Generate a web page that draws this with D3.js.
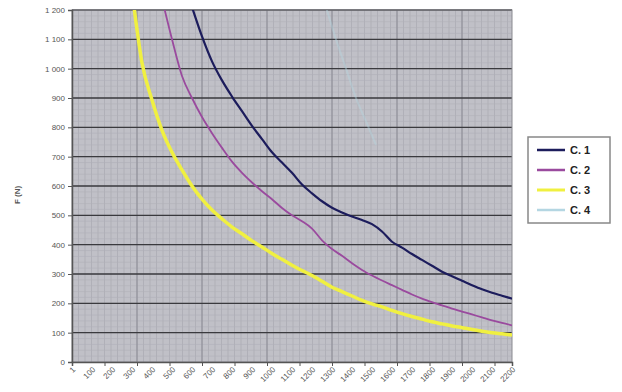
<!DOCTYPE html>
<html><head><meta charset="utf-8">
<script src="https://cdn.jsdelivr.net/npm/d3@7"></script>
<style>body{margin:0;background:#fff}svg{display:block}</style>
</head><body><svg id="c" width="622" height="392"></svg>
<script>
const seriesNames = ["C. 1", "C. 2", "C. 3", "C. 4"];
const seriesColors = ["#1c1c5c", "#9a4a9e", "#f0f040", "#b4d6e2"];
const xPos = [0,100,200,300,400,500,600,700,800,900,1000,1100,1200,1300,1400,1500,1600,1700,1800,1900,2000,2100,2200];
const xLabels = ["1","100","200","300","400","500","600","700","800","900","1000","1100","1200","1300","1400","1500","1600","1700","1800","1900","2000","2100","2200"];
const yTicks = [0,100,200,300,400,500,600,700,800,900,1000,1100,1200];
const yLabels = ["0","100","200","300","400","500","600","700","800","900","1 000","1 100","1 200"];
const c1x = [600,650,700,750,800,850,900,950,1000,1050,1100,1150,1200,1250,1300,1350,1400,1450,1500,1550,1600,1650,1700,1750,1800,1850,1900,1950,2000,2050,2100,2150,2200];
const c1y = [1210,1110,1025,960,905,855,805,760,715,680,645,605,575,548,526,510,496,484,470,445,410,390,368,348,328,308,292,277,262,248,236,226,216];
const c2x = [460,500,550,600,650,700,750,800,850,900,950,1000,1050,1100,1150,1200,1250,1300,1350,1400,1450,1500,1550,1600,1650,1700,1750,1800,1850,1900,1950,2000,2050,2100,2150,2200];
const c2y = [1210,1100,975,900,835,780,730,683,645,612,582,555,525,500,480,455,415,385,362,337,314,295,278,262,246,230,216,204,193,182,172,162,152,142,133,125];
const c3x = [310,350,400,450,500,550,600,650,700,750,800,850,900,950,1000,1050,1100,1150,1200,1250,1300,1350,1400,1450,1500,1550,1600,1650,1700,1750,1800,1850,1900,1950,2000,2050,2100,2150,2200];
const c3y = [1210,1020,893,790,715,655,600,555,518,488,460,437,413,392,370,350,330,312,295,275,255,240,225,210,198,188,176,165,155,146,137,130,123,117,111,105,100,96,92];
const c4x = [1270,1320,1370,1420,1470,1520];
const c4y = [1210,1100,1000,900,820,740];

const svg = d3.select("#c");
const x = d3.scaleLinear().domain([0,2200]).range([72,512]);
const y = d3.scaleLinear().domain([0,1200]).range([362,10]);

svg.append("rect").attr("x",72).attr("y",10).attr("width",440).attr("height",352).attr("fill","#c0c0c7");
const g = svg.append("g");
g.selectAll(".vm").data(d3.range(32.5,2200,32.5)).join("line")
  .attr("x1",d=>x(d)).attr("x2",d=>x(d)).attr("y1",10).attr("y2",362)
  .attr("stroke","#a9a9b2").attr("stroke-width",0.7);
g.selectAll(".hm").data(d3.range(20,1200,20)).join("line")
  .attr("x1",72).attr("x2",512).attr("y1",d=>y(d)).attr("y2",d=>y(d))
  .attr("stroke","#b0b0b8").attr("stroke-width",0.6);
g.selectAll(".vM").data(d3.range(325,2200,325)).join("line")
  .attr("x1",d=>x(d)).attr("x2",d=>x(d)).attr("y1",10).attr("y2",362)
  .attr("stroke","#8a8a94").attr("stroke-width",1);
g.selectAll(".hM").data(yTicks.slice(1)).join("line")
  .attr("x1",72).attr("x2",512).attr("y1",d=>y(d)).attr("y2",d=>y(d))
  .attr("stroke","#3a3a3e").attr("stroke-width",1.4);
svg.append("rect").attr("x",72).attr("y",10).attr("width",440).attr("height",352)
  .attr("fill","none").attr("stroke","#8a8a90").attr("stroke-width",1);

svg.append("clipPath").attr("id","clp").append("rect").attr("x",72).attr("y",10).attr("width",440).attr("height",352);
const line = d3.line().x(d=>x(d[0])).y(d=>y(d[1])).curve(d3.curveMonotoneX);
const series = [[c1x,c1y],[c2x,c2y],[c3x,c3y],[c4x,c4y]];
const widths = [2.2,1.8,3.5,2];
const order = [3,2,1,0];
const lg = svg.append("g").attr("clip-path","url(#clp)");
order.forEach(i=>{
  const pts = series[i][0].map((v,k)=>[v,series[i][1][k]]);
  lg.append("path").attr("d",line(pts)).attr("fill","none")
    .attr("stroke",seriesColors[i]).attr("stroke-width",widths[i])
    .attr("opacity", i===3?0.4:1);
});

const ya = d3.axisLeft(y).tickValues(yTicks).tickFormat((d,i)=>yLabels[i]).tickSize(4);
const yg = svg.append("g").attr("transform","translate(72,0)").call(ya);
yg.select(".domain").attr("stroke","#555").attr("stroke-width",1.5);
yg.selectAll("line").attr("stroke","#555");
yg.selectAll("text").attr("font-family","Liberation Sans, Arial").attr("font-size",8).attr("fill","#555");

const xa = d3.axisBottom(x).tickValues(d3.range(0,2201,162.5)).tickFormat("").tickSize(4);
const xg = svg.append("g").attr("transform","translate(0,362)").call(xa);
xg.select(".domain").attr("stroke","#555").attr("stroke-width",1.5);
xg.selectAll("line").attr("stroke","#555");
svg.append("g").selectAll("text").data(xPos).join("text")
  .attr("transform",d=>`translate(${x(d)+2},368) rotate(-45)`)
  .attr("text-anchor","end").attr("dy","0.35em")
  .attr("font-family","Liberation Sans, Arial").attr("font-size",8).attr("fill","#555")
  .text((d,i)=>xLabels[i]);

svg.append("text").attr("transform","translate(20,195) rotate(-90)")
  .attr("text-anchor","middle").attr("font-family","Liberation Sans, Arial")
  .attr("font-size",8).attr("font-weight","bold").attr("fill","#555").text("F (N)");

const leg = svg.append("g");
leg.append("rect").attr("x",528).attr("y",137).attr("width",82).attr("height",86)
  .attr("fill","#fff").attr("stroke","#888").attr("stroke-width",1.5);
seriesNames.forEach((n,i)=>{
  const yy = 150 + i*20;
  leg.append("line").attr("x1",537).attr("x2",565).attr("y1",yy).attr("y2",yy)
    .attr("stroke",seriesColors[i]).attr("stroke-width",i===2?3:2.5);
  leg.append("text").attr("x",570).attr("y",yy).attr("dy","0.35em")
    .attr("font-family","Liberation Sans, Arial").attr("font-weight","bold")
    .attr("font-size",11).attr("fill","#222").text(n);
});
</script></body></html>
